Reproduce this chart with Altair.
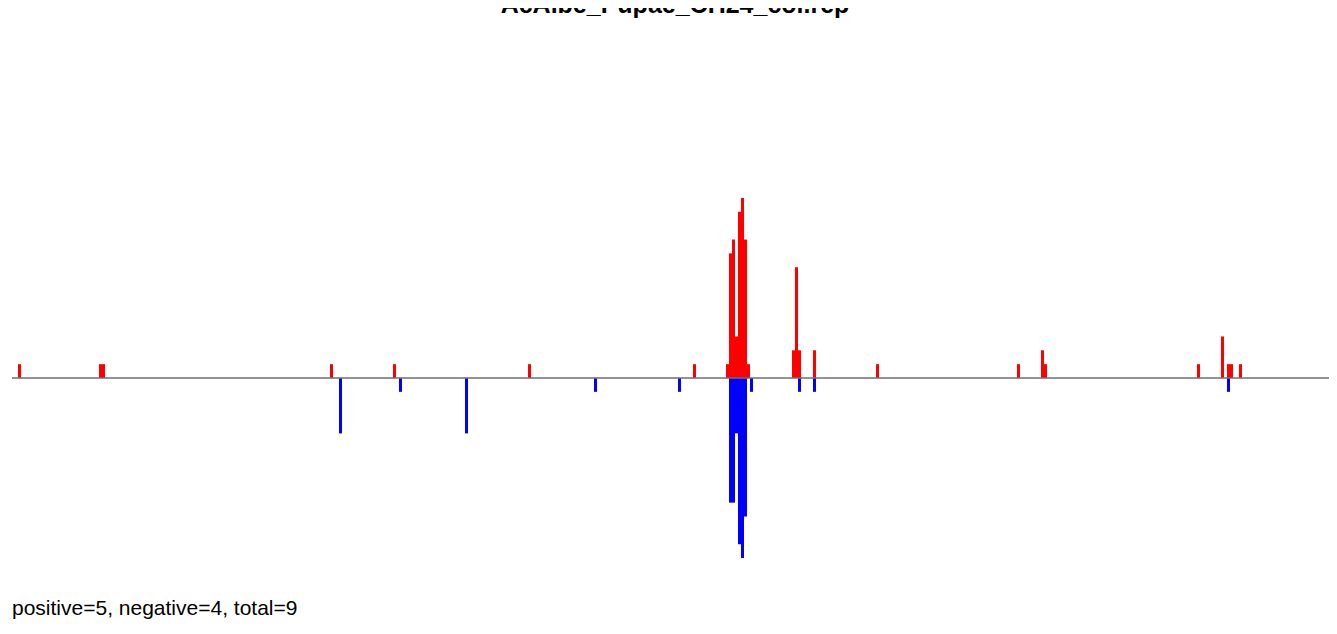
import altair as alt
import pandas as pd

title_text = "AcAlbe_Pupae_CH24_col.rep"
footer_text = "positive=5, negative=4, total=9"

# positions (bin index) and read counts, positive strand
pos_positions = [2, 29, 30, 106, 127, 172, 227, 238, 239, 240, 241, 242, 243, 244, 245,
                 260, 261, 262, 267, 288, 335, 343, 344, 395, 403, 405, 406, 409]
pos_counts = [1, 1, 1, 1, 1, 1, 1, 1, 9, 10, 3, 12, 13, 10, 1,
              2, 8, 2, 2, 1, 1, 2, 1, 1, 3, 1, 1, 1]

# negative strand
neg_positions = [109, 129, 151, 194, 222, 239, 240, 241, 242, 243, 244, 246, 262, 267, 405]
neg_counts = [4, 1, 4, 1, 1, 9, 9, 4, 12, 13, 10, 1, 1, 1, 1]

rows = []
for p, c in zip(pos_positions, pos_counts):
    rows.append({"pos": p, "end": p + 1, "count": c, "base": 0, "strand": "positive"})
for p, c in zip(neg_positions, neg_counts):
    rows.append({"pos": p, "end": p + 1, "count": -c, "base": 0, "strand": "negative"})
df = pd.DataFrame(rows)

W, H = 1321, 612
xscale = alt.Scale(domain=[-4 / 3, 439], nice=False, zero=False)
yscale = alt.Scale(domain=[(370 - H) / 13.85, 370 / 13.85], nice=False, zero=False)

bars = alt.Chart(df).mark_bar().encode(
    x=alt.X("pos:Q", scale=xscale, axis=None),
    x2="end:Q",
    y=alt.Y("count:Q", scale=yscale, axis=None),
    y2="base:Q",
    color=alt.Color("strand:N",
                    scale=alt.Scale(domain=["positive", "negative"], range=["#ff0000", "#0000ff"]),
                    legend=None),
)

baseline = alt.Chart(pd.DataFrame({"y": [0]})).mark_rule(color="#6e6e6e", strokeWidth=1.3).encode(
    y=alt.Y("y:Q", scale=yscale, axis=None),
    x=alt.value(4),
    x2=alt.value(W + 7),
)

title = alt.Chart(pd.DataFrame({"t": [title_text]})).mark_text(
    font="Liberation Sans", fontSize=25, fontWeight="bold", align="center",
    baseline="alphabetic", color="black"
).encode(x=alt.value(667), y=alt.value(5), text="t:N")

footer = alt.Chart(pd.DataFrame({"t": [footer_text]})).mark_text(
    font="Liberation Sans", fontSize=21, align="left", baseline="alphabetic", color="black"
).encode(x=alt.value(4), y=alt.value(607), text="t:N")

chart = alt.layer(bars, baseline, title, footer).properties(
    width=W, height=H, padding=0,
    autosize=alt.AutoSizeParams(type="none"),
).configure_view(stroke=None)

chart.save("out.html", embed_options={"renderer": "svg", "actions": False})
